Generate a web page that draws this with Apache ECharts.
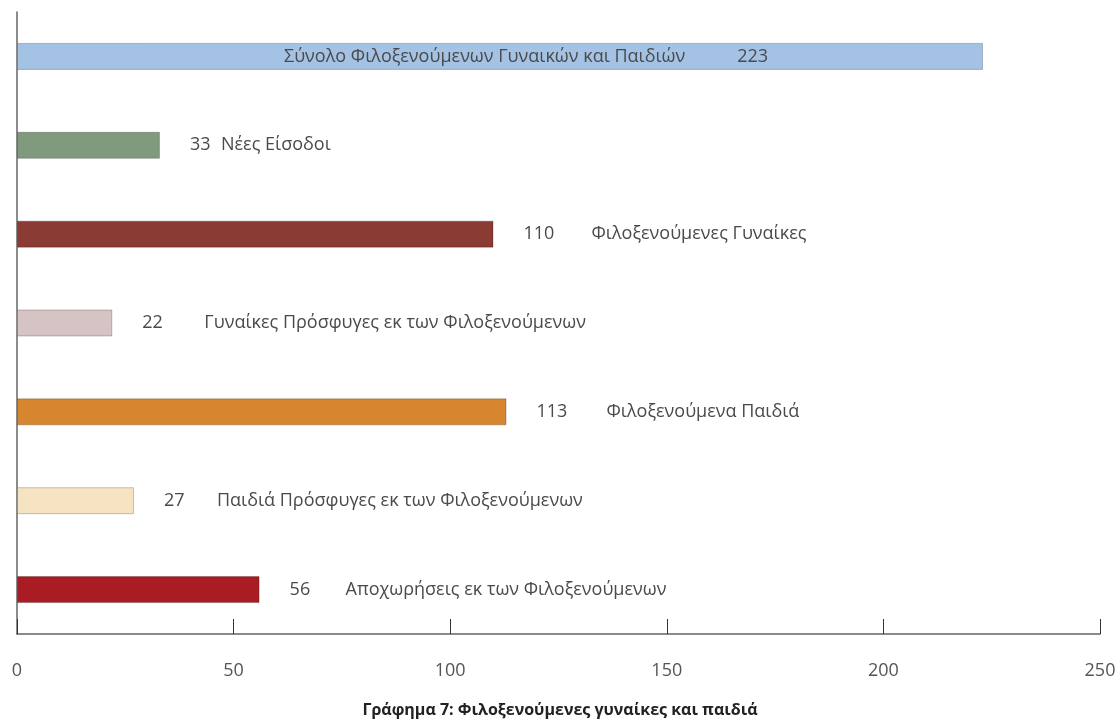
<!DOCTYPE html>
<html>
<head>
<meta charset="utf-8">
<script src="https://cdn.jsdelivr.net/npm/echarts@6/dist/echarts.min.js"></script>
<style>
  html, body { margin: 0; padding: 0; background: #fff; }
  #chart { width: 1120px; height: 719px; }
</style>
</head>
<body>
<div id="chart"></div>
<script>
  // data
  var categories = [
    'Σύνολο Φιλοξενούμενων Γυναικών και Παιδιών',
    'Νέες Είσοδοι',
    'Φιλοξενούμενες Γυναίκες',
    'Γυναίκες Πρόσφυγες εκ των Φιλοξενούμενων',
    'Φιλοξενούμενα Παιδιά',
    'Παιδιά Πρόσφυγες εκ των Φιλοξενούμενων',
    'Αποχωρήσεις εκ των Φιλοξενούμενων'
  ]
  var values = [223, 33, 110, 22, 113, 27, 56]
  var barColors = ['#a4c2e3', '#7f9a7d', '#893b34', '#d5c4c3', '#d6862f', '#f5e3c2', '#a91c24']
  var xTicks = [0, 50, 100, 150, 200, 250]
  var title = 'Γράφημα 7: Φιλοξενούμενες γυναίκες και παιδιά'

  // space between number and text in each label (the source spaces them unevenly)
  var numberWidths = [0, 31, 68, 62, 70, 53, 56]

  var font = "'Open Sans', sans-serif"
  var titleFont = "'Liberation Sans Narrow', 'Open Sans', sans-serif"
  var labelColor = '#4a4a4a'

  var barData = values.map(function (v, i) {
    var item = {
      value: v,
      itemStyle: { color: barColors[i] }
    }
    if (i === 0) {
      // the total bar carries its label inside
      item.label = {
        position: 'inside',
        offset: [26, 0],
        formatter: '{t|' + categories[i] + '}{g|}{n0|' + v + '}'
      }
    } else {
      item.label = {
        formatter: '{n' + i + '|' + v + '}{t|' + categories[i] + '}'
      }
    }
    return item
  })

  var rich = {
    t: { fontFamily: font, fontSize: 18, color: labelColor },
    g: { width: 52 },
    n0: { fontFamily: font, fontSize: 18, color: labelColor }
  }
  for (var k = 1; k < numberWidths.length; k++) {
    rich['n' + k] = { fontFamily: font, fontSize: 18, color: labelColor, width: numberWidths[k] }
  }

  var chart = echarts.init(document.getElementById('chart'))
  chart.setOption({
    animation: false,
    title: {
      text: title,
      left: 'center',
      top: 697,
      textStyle: { fontFamily: titleFont, fontSize: 16, fontWeight: 'bold', color: '#222' }
    },
    grid: { left: 17, right: 20, top: 12, bottom: 85 },
    xAxis: {
      type: 'value',
      min: 0,
      max: 250,
      interval: 50,
      splitLine: { show: false },
      axisLine: { show: true, lineStyle: { color: '#666', width: 1.5 } },
      axisTick: { show: true, inside: true, length: 15, lineStyle: { color: '#333', width: 1 } },
      axisLabel: {
        margin: 28,
        fontFamily: font,
        fontSize: 18,
        color: '#555',
        formatter: function (v) { return xTicks.indexOf(v) >= 0 ? String(v) : '' }
      }
    },
    yAxis: {
      type: 'category',
      data: categories,
      inverse: true,
      axisLine: { show: true, lineStyle: { color: '#666', width: 1.5 } },
      axisTick: { show: false },
      axisLabel: { show: false }
    },
    series: [{
      type: 'bar',
      data: barData,
      barWidth: 27,
      itemStyle: { borderColor: 'rgba(0,0,0,0.22)', borderWidth: 1 },
      label: {
        show: true,
        position: 'right',
        distance: 30,
        fontFamily: font,
        fontSize: 18,
        color: labelColor,
        rich: rich
      }
    }]
  })
</script>
</body>
</html>
